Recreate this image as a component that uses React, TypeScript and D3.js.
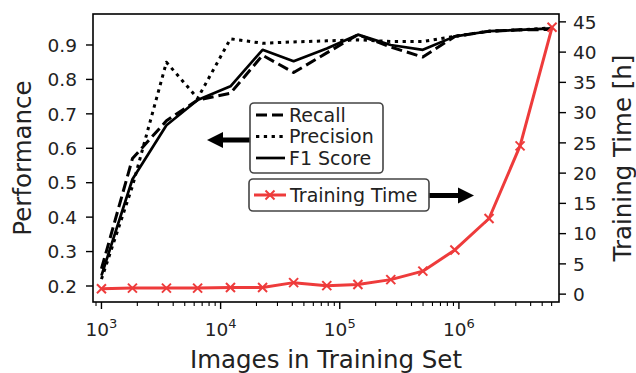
import React from "react";
import * as d3 from "d3";

const images = [1000, 1820, 3510, 6410, 12100, 22500, 41000, 77800, 142000, 268000, 498000, 925000, 1790000, 3260000, 6050000];
const recall = [0.25, 0.57, 0.68, 0.74, 0.76, 0.87, 0.82, 0.877, 0.93, 0.894, 0.865, 0.925, 0.94, 0.944, 0.945];
const precision = [0.22, 0.49, 0.85, 0.745, 0.918, 0.905, 0.909, 0.912, 0.915, 0.91, 0.91, 0.925, 0.94, 0.944, 0.95];
const f1 = [0.23, 0.51, 0.667, 0.74, 0.78, 0.886, 0.853, 0.89, 0.93, 0.9, 0.886, 0.925, 0.94, 0.944, 0.948];
const trainingHours = [0.9, 1.0, 1.0, 1.0, 1.1, 1.1, 1.9, 1.4, 1.6, 2.4, 3.8, 7.3, 12.5, 24.5, 44.1];

const leftTicks = [0.2, 0.3, 0.4, 0.5, 0.6, 0.7, 0.8, 0.9];
const rightTicks = [0, 5, 10, 15, 20, 25, 30, 35, 40, 45];
const xMajorExp = [3, 4, 5, 6];

const W = 636, H = 373;
const L = 93, R = 559, T = 14, B = 302;
const FONT = "DejaVu Sans, sans-serif";
const RED = "#ee3b3b";

export default function App() {
  const x = d3.scaleLog().domain([Math.pow(10, 2.929), Math.pow(10, 6.84)]).range([L, R]);
  const yL = d3.scaleLinear().domain([0.1535, 0.99]).range([B, T]);
  const yR = d3.scaleLinear().domain([-1.3, 46.3]).range([B, T]);

  const lineL = (vals: number[]) =>
    d3.line<number>().x((_, i) => x(images[i])).y((v) => yL(v))(vals) || "";
  const lineR = d3.line<number>().x((_, i) => x(images[i])).y((v) => yR(v))(trainingHours) || "";

  const [d0, d1] = x.domain();
  const minor: number[] = [];
  for (let e = 2; e <= 6; e++) {
    for (let m = 2; m <= 9; m++) {
      const v = m * Math.pow(10, e);
      if (v >= d0 && v <= d1) minor.push(v);
    }
  }

  const cross = (cx: number, cy: number, k: string | number) => (
    <g key={k} stroke={RED} strokeWidth={2}>
      <line x1={cx - 4.5} y1={cy - 4.5} x2={cx + 4.5} y2={cy + 4.5} />
      <line x1={cx - 4.5} y1={cy + 4.5} x2={cx + 4.5} y2={cy - 4.5} />
    </g>
  );

  const tickFs = 18.5;
  const legFs = 19;
  const labFs = 24.5;

  return (
    <svg width={W} height={H} style={{ position: "absolute", left: 0, top: 0 }} fontFamily={FONT}>
      <rect x={0} y={0} width={W} height={H} fill="white" />
      <defs>
        <clipPath id="plot">
          <rect x={L} y={T} width={R - L} height={B - T} />
        </clipPath>
      </defs>

      <g clipPath="url(#plot)" fill="none" strokeLinejoin="round">
        <path d={lineL(recall)} stroke="black" strokeWidth={3} strokeDasharray="11,5" />
        <path d={lineL(precision)} stroke="black" strokeWidth={3} strokeDasharray="3.3,4.5" />
        <path d={lineL(f1)} stroke="black" strokeWidth={2.7} />
        <path d={lineR} stroke={RED} strokeWidth={3} />
        {trainingHours.map((v, i) => cross(x(images[i]), yR(v), i))}
      </g>

      {/* spines */}
      <rect x={L} y={T} width={R - L} height={B - T} fill="none" stroke="black" strokeWidth={1.6} />

      {/* left ticks */}
      {leftTicks.map((t) => (
        <g key={"l" + t}>
          <line x1={L - 7} x2={L} y1={yL(t)} y2={yL(t)} stroke="black" strokeWidth={1.4} />
          <text x={L - 16} y={yL(t) + tickFs * 0.36} fontSize={tickFs} textAnchor="end" fill="#222">
            {t.toFixed(1)}
          </text>
        </g>
      ))}

      {/* right ticks */}
      {rightTicks.map((t) => (
        <g key={"r" + t}>
          <line x1={R} x2={R + 7} y1={yR(t)} y2={yR(t)} stroke="black" strokeWidth={1.4} />
          <text x={R + 14} y={yR(t) + tickFs * 0.36} fontSize={tickFs} textAnchor="start" fill="#222">
            {t}
          </text>
        </g>
      ))}

      {/* x ticks */}
      {xMajorExp.map((e) => {
        const px = x(Math.pow(10, e));
        return (
          <g key={"x" + e}>
            <line x1={px} x2={px} y1={B} y2={B + 7} stroke="black" strokeWidth={1.4} />
            <text x={px} y={336} fontSize={tickFs} textAnchor="middle" fill="#222">
              10<tspan fontSize={13} dy={-8}>{e}</tspan>
            </text>
          </g>
        );
      })}
      {minor.map((v, i) => (
        <line key={"m" + i} x1={x(v)} x2={x(v)} y1={B} y2={B + 4} stroke="black" strokeWidth={1.1} />
      ))}

      {/* axis labels */}
      <text x={326} y={368} fontSize={labFs} textAnchor="middle" fill="#222">Images in Training Set</text>
      <text transform={`translate(31,${(T + B) / 2}) rotate(-90)`} fontSize={labFs} textAnchor="middle" fill="#222">
        Performance
      </text>
      <text transform={`translate(631,${(T + B) / 2}) rotate(-90)`} fontSize={labFs} textAnchor="middle" fill="#222">
        Training Time [h]
      </text>

      {/* arrows */}
      <g fill="black">
        <rect x={221} y={137.5} width={30} height={5} />
        <polygon points={`207,140 223,132 223,148`} />
        <rect x={428} y={193} width={32} height={5} />
        <polygon points={`474,195.5 458,187.5 458,203.5`} />
      </g>

      {/* legend 1 */}
      <rect x={250} y={103} width={133} height={70} rx={4} fill="white" fillOpacity={0.9} stroke="#444" strokeWidth={1.6} />
      <line x1={256} x2={285} y1={115} y2={115} stroke="black" strokeWidth={3} strokeDasharray="11,5" />
      <line x1={256} x2={285} y1={136.5} y2={136.5} stroke="black" strokeWidth={3} strokeDasharray="3.3,4.5" />
      <line x1={256} x2={285} y1={158} y2={158} stroke="black" strokeWidth={2.7} />
      <text x={289} y={115 + legFs * 0.36} fontSize={legFs} fill="#222">Recall</text>
      <text x={289} y={136.5 + legFs * 0.36} fontSize={legFs} fill="#222">Precision</text>
      <text x={289} y={158 + legFs * 0.36} fontSize={legFs} fill="#222">F1 Score</text>

      {/* legend 2 */}
      <rect x={249} y={179} width={180} height={32} rx={4} fill="white" fillOpacity={0.9} stroke="#444" strokeWidth={1.6} />
      <line x1={254} x2={286} y1={195} y2={195} stroke={RED} strokeWidth={3} />
      {cross(270, 195, "leg")}
      <text x={290} y={195 + legFs * 0.36} fontSize={legFs} fill="#222">Training Time</text>
    </svg>
  );
}
